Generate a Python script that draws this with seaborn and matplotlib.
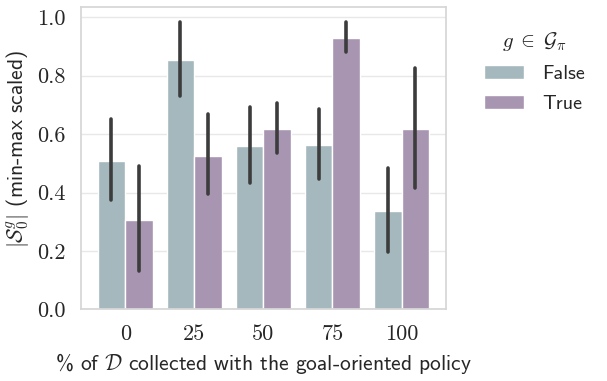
import matplotlib
matplotlib.use("Agg")
import matplotlib.pyplot as plt
import seaborn as sns
import pandas as pd
import numpy as np

categories = ["0", "25", "50", "75", "100"]
hue_levels = ["False", "True"]
means_false = [0.508, 0.852, 0.558, 0.563, 0.336]
means_true = [0.307, 0.526, 0.617, 0.928, 0.617]
lo_false = [0.373, 0.729, 0.433, 0.448, 0.195]
hi_false = [0.653, 0.983, 0.692, 0.686, 0.483]
lo_true = [0.131, 0.394, 0.537, 0.880, 0.415]
hi_true = [0.491, 0.668, 0.707, 0.985, 0.825]
colors = ["#a1bac1", "#a890b6"]

sns.set_theme(style="whitegrid", rc={"grid.color": "#e8e8e8",
                                     "axes.edgecolor": "#d6d6d6"})
plt.rcParams["mathtext.fontset"] = "cm"
plt.rcParams["axes.unicode_minus"] = False

df = pd.DataFrame({
    "pct": categories * 2,
    "g": ["False"] * 5 + ["True"] * 5,
    "val": means_false + means_true,
})

fig = plt.figure(figsize=(6.07, 3.81), dpi=100)
ax = fig.add_axes([0.1334, 0.1877, 0.601, 0.794])
sns.barplot(data=df, x="pct", y="val", hue="g", order=categories,
            hue_order=hue_levels, palette=colors, errorbar=None,
            edgecolor="white", linewidth=1, ax=ax)

lows = {"False": lo_false, "True": lo_true}
highs = {"False": hi_false, "True": hi_true}
for cont, lvl in zip(ax.containers, hue_levels):
    for i, patch in enumerate(cont.patches):
        xc = patch.get_x() + patch.get_width() / 2
        ax.plot([xc, xc], [lows[lvl][i], highs[lvl][i]], color="#3c3c3c",
                lw=2.6, solid_capstyle="round", zorder=5)

ax.set_ylim(0, 1.035)
ax.set_yticks([0.0, 0.2, 0.4, 0.6, 0.8, 1.0])
ax.set_yticklabels(["0.0", "0.2", "0.4", "0.6", "0.8", "1.0"])
for lab in ax.get_yticklabels() + ax.get_xticklabels():
    lab.set_fontfamily("cmr10")
    lab.set_fontsize(16)
ax.tick_params(axis="both", pad=5)

ax.set_xlabel(r"% of $\mathcal{D}$ collected with the goal-oriented policy",
              fontfamily="cmss10", fontsize=15.5, labelpad=5)
ax.set_ylabel(r"$|\mathcal{S}_0^g|$ (min-max scaled)",
              fontfamily="cmss10", fontsize=15.5)
ax.yaxis.set_label_coords(-0.135, 0.53)

leg = ax.legend(title=r"$g \;\in\; \mathcal{G}_\pi$", loc="upper left",
                bbox_to_anchor=(1.055, 0.985), frameon=False,
                prop={"family": "cmss10", "size": 14.5},
                title_fontsize=15, handlelength=2.0,
                handletextpad=0.9, labelspacing=0.6)

fig.savefig("out.png", dpi=100)
